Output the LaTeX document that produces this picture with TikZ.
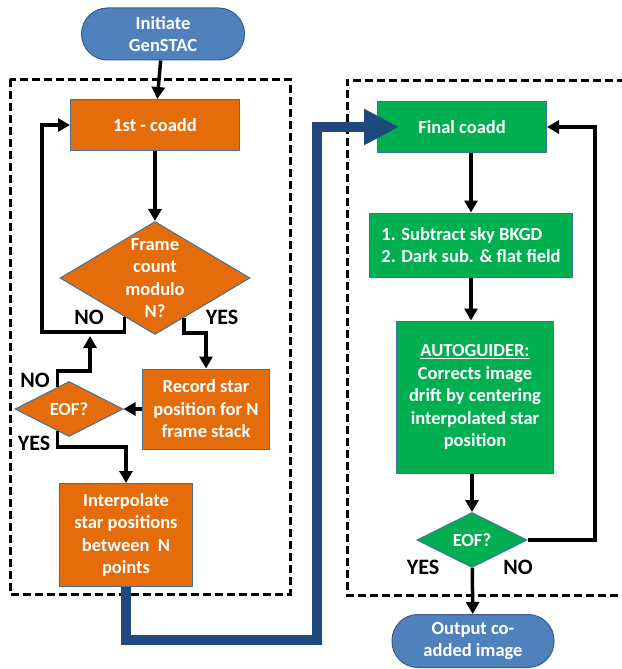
\documentclass[tikz,border=0pt]{standalone}
\usepackage{fontspec}
\setmainfont{Carlito}
\usetikzlibrary{arrows.meta, calc, shapes.geometric}
\definecolor{boxorange}{RGB}{228,108,10}
\definecolor{boxgreen}{RGB}{0,176,80}
\definecolor{termblue}{RGB}{79,129,189}
\definecolor{termedge}{RGB}{56,93,138}
\definecolor{boxedge}{RGB}{65,113,156}
\definecolor{pathblue}{RGB}{31,73,125}

\begin{document}
\begin{tikzpicture}[x=1pt, y=-1pt,
  every node/.style={font=\fontsize{18.5}{22.5}\selectfont\bfseries},
  term/.style={draw=termedge, line width=1pt, fill=termblue, text=white, rounded corners=26pt, align=center, inner sep=0pt},
  obox/.style={draw=boxedge, line width=1pt, fill=boxorange, text=white, align=center, inner sep=0pt},
  gbox/.style={draw=boxedge, line width=1pt, fill=boxgreen, text=white, align=center, inner sep=0pt},
  odec/.style={diamond, draw=boxedge, line width=1pt, fill=boxorange, text=white, align=center, inner sep=-40pt},
  gdec/.style={diamond, draw=boxedge, line width=1pt, fill=boxgreen, text=white, align=center, inner sep=-30pt},
  arr/.style={line width=3.5pt, -{Triangle[length=12pt,width=13pt]}},
  dashbox/.style={line width=3pt, dash pattern=on 8pt off 4pt},
  lab/.style={font=\fontsize{22}{24}\selectfont\bfseries}]
\useasboundingbox (0,0) rectangle (621,669);

% dashed frames
\draw[dashbox] (10,79) rectangle (290,594);
\draw[dashbox] (625,80) -| (347,595) -- (625,595);

% left column
\node[term, minimum width=163pt, minimum height=52pt] (init) at (163,34) {Initiate\\GenSTAC};
\node[obox, minimum width=169pt, minimum height=51pt] (coadd1) at (155,125) {1st - coadd};
\node[odec, minimum width=190pt, minimum height=113pt] (frame) at (155,278) {Frame\\count\\modulo\\N?};
\node[obox, minimum width=127pt, minimum height=80pt] (record) at (206,409) {Record star\\position for N\\frame stack};
\node[odec, minimum width=108pt, minimum height=55pt] (eof1) at (69,409) {EOF?};
\node[obox, minimum width=133pt, minimum height=103pt] (interp) at (126,535) {Interpolate\\star positions\\between~~N\\points};

% right column
\node[gbox, minimum width=169pt, minimum height=51pt] (final) at (462,127) {Final coadd};
\node[gbox, minimum width=203pt, minimum height=64pt, align=left] (subtract) at (471,245) {1. Subtract sky BKGD\\2. Dark sub. \& flat field};
\node[gbox, minimum width=157pt, minimum height=152pt] (guider) at (475,397) {\underline{AUTOGUIDER:}\\Corrects image\\drift by centering\\interpolated star\\position};
\node[gdec, minimum width=110pt, minimum height=55pt] (eof2) at (472,540) {EOF?};
\node[term, minimum width=162pt, minimum height=53pt] (output) at (473,641) {Output co-\\added image};

% branch labels
\node[lab] (framno) at (89,317) {NO};
\node[lab] (framyes) at (222,317) {YES};
\node[lab] (eofno) at (35,380) {NO};
\node[lab] (eofyes) at (34,443) {YES};
\node[lab] (guideyes) at (423,567) {YES};
\node[lab] (guideno) at (518,567) {NO};

\coordinate (nojoin) at (90,336);

% connectors
\draw[arr] (init) -- (coadd1);
\draw[arr] (coadd1) -- (frame);
\draw[arr] (frame.232) -- ++(0,15) -| ([xshift=-28pt]coadd1.west) -- (coadd1.west);
\draw[arr] (frame.306) -- ++(0,15) -| (record.north);
\draw[arr] (record.west) -- (eof1.east);
\draw[arr] (eof1.117) -- ++(0,-16) -| (nojoin);
\draw[arr] (eof1.243) -- ++(0,16) -| (interp.north);
\draw[arr] (final.south -| subtract.north) -- (subtract.north);
\draw[arr] (subtract.south) -- (guider.north -| subtract.south);
\draw[arr] (guider.south -| eof2.north) -- (eof2.north);
\draw[arr] (eof2.east) -| ([xshift=48pt]final.east) -- (final.east);
\draw[arr] (eof2) -- (output);

% hand-over to the final coadd
\draw[pathblue, line width=10pt, shorten >=-22pt, -{Triangle[length=35pt,width=34pt]}]
  (interp.south) -- ++(0,53) -| ([xshift=-60pt]final.west) -- (final.west);
\end{tikzpicture}
\end{document}
